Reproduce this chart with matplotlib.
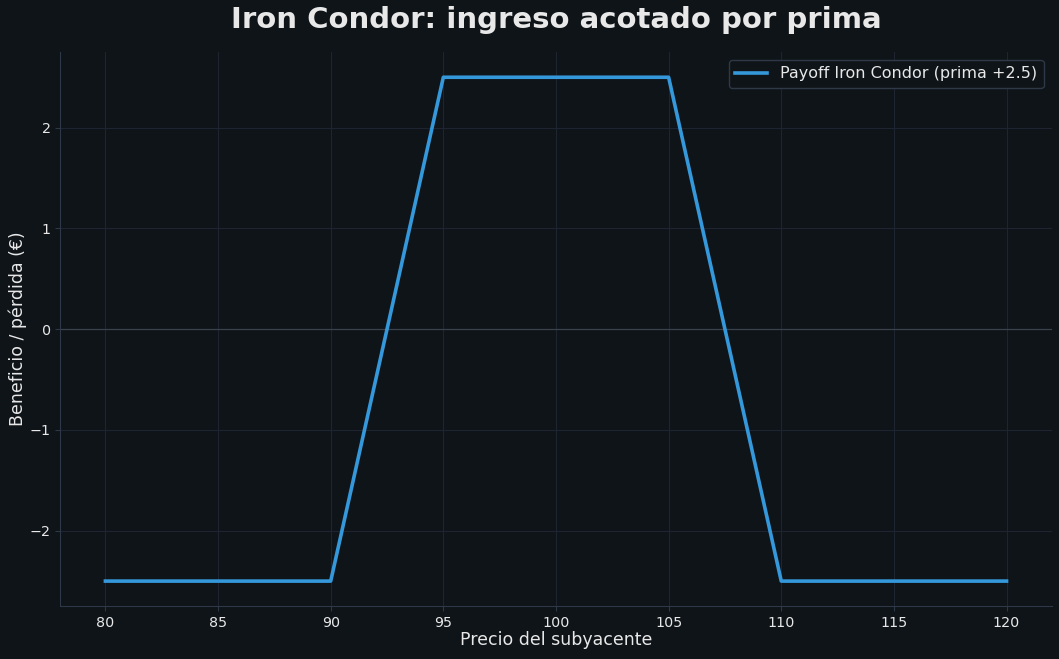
import numpy as np
import matplotlib
matplotlib.use("Agg")
import matplotlib.pyplot as plt

# Payoff knots
precio = [80, 90, 95, 105, 110, 120]
payoff = [-2.5, -2.5, 2.5, 2.5, -2.5, -2.5]

bg = '#0f1419'
grid_c = '#1e2530'
spine_c = '#2e3846'
text_c = '#e8e8e8'
line_c = '#3498db'

fig, ax = plt.subplots(figsize=(10.59, 6.59), dpi=100)
fig.patch.set_facecolor(bg)
ax.set_facecolor(bg)

ax.plot(precio, payoff, color=line_c, lw=2.6, label='Payoff Iron Condor (prima +2.5)')
ax.axhline(0, color='#3a424c', lw=0.9, zorder=1)

ax.set_title('Iron Condor: ingreso acotado por prima', fontsize=21, fontweight='bold',
             color=text_c, pad=17)
ax.set_xlabel('Precio del subyacente', fontsize=12.5, color=text_c, labelpad=1)
ax.set_ylabel('Beneficio / pérdida (€)', fontsize=12.5, color=text_c, labelpad=2)

ax.grid(True, color=grid_c, lw=0.8)
ax.set_axisbelow(True)
for s in ['top', 'right']:
    ax.spines[s].set_visible(False)
for s in ['left', 'bottom']:
    ax.spines[s].set_color(spine_c)
ax.tick_params(colors=text_c, labelsize=10.3)
ax.tick_params(axis='both', color=spine_c)

leg = ax.legend(loc='upper right', fontsize=11.5, facecolor=bg, edgecolor=spine_c,
                labelcolor=text_c, framealpha=1)

plt.subplots_adjust(left=0.057, right=0.993, bottom=0.08, top=0.921)
plt.savefig('out.png', dpi=100, facecolor=bg)
